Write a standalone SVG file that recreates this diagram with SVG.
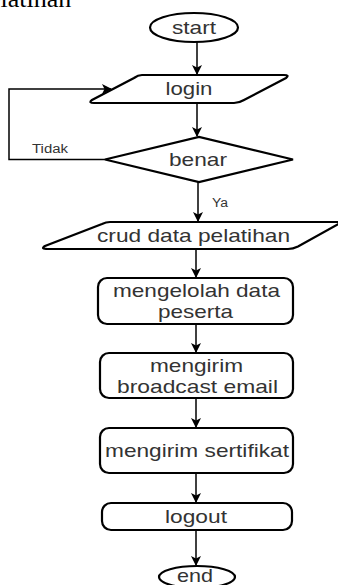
<svg xmlns="http://www.w3.org/2000/svg" width="338" height="585" viewBox="0 0 338 585">
<style>
.shape{fill:#fff;stroke:#000;stroke-width:2.2}
.t{font-family:"Liberation Sans",Arial,sans-serif;font-size:19px;fill:#333;text-anchor:middle}
.lbl{font-family:"Liberation Sans",Arial,sans-serif;font-size:12px;fill:#333}
.conn{fill:none;stroke:#000;stroke-width:1.5}
</style>
<defs>
<marker id="arr" markerWidth="10" markerHeight="10" refX="9" refY="5" orient="auto" markerUnits="userSpaceOnUse">
<path d="M0,0 L10,5 L0,10 L2.5,5 Z" fill="#000"/>
</marker>
</defs>
<rect width="338" height="585" fill="#fff"/>
<text x="-24" y="7" font-family="'Liberation Serif',serif" font-size="26" fill="#000">pelatihan</text>
<g id="connectors">
<path class="conn" d="M197,42 L197,74" marker-end="url(#arr)"/>
<path class="conn" d="M197,103 L197,136" marker-end="url(#arr)"/>
<path class="conn" d="M198,182 L198,221" marker-end="url(#arr)"/>
<path class="conn" d="M105,159.5 L9,159.5 L9,89 L111,89" marker-end="url(#arr)"/>
<path class="conn" d="M196,249 L196,277" marker-end="url(#arr)"/>
<path class="conn" d="M196,324 L196,352" marker-end="url(#arr)"/>
<path class="conn" d="M196,398 L196,427" marker-end="url(#arr)"/>
<path class="conn" d="M196,473 L196,502" marker-end="url(#arr)"/>
<path class="conn" d="M196,530 L196,565" marker-end="url(#arr)"/>
<text class="lbl" x="32" y="153" textLength="36" lengthAdjust="spacingAndGlyphs">Tidak</text>
<text class="lbl" x="212" y="207" textLength="16" lengthAdjust="spacingAndGlyphs">Ya</text>
</g>
<g id="start">
<ellipse class="shape" cx="194" cy="27.5" rx="44" ry="14.5"/>
<text class="t" x="194" y="34" textLength="44" lengthAdjust="spacingAndGlyphs">start</text>
</g>
<g id="login">
<path class="shape" d="M142,75 L284,75 Q290,75 286,78 L244,100 Q239,103 234,103 L94,103 Q88,103 92,100 L134,78 Q138,75 142,75 Z"/>
<text class="t" x="189" y="95" textLength="47" lengthAdjust="spacingAndGlyphs">login</text>
</g>
<g id="benar">
<polygon class="shape" points="105,159.5 199,137 293,159.5 199,182"/>
<text class="t" x="198" y="166" textLength="58" lengthAdjust="spacingAndGlyphs">benar</text>
</g>
<g id="crud">
<path class="shape" d="M110,222 L342,222 L298,246.5 Q293,249 288,249 L48,249 Q40,249 45,246 L102,224 Q106,222 110,222 Z"/>
<text class="t" x="193.5" y="242" textLength="193" lengthAdjust="spacingAndGlyphs">crud data pelatihan</text>
</g>
<g id="mengelolah">
<rect class="shape" x="98" y="278" width="195" height="46" rx="9"/>
<text class="t" x="196.5" y="297" textLength="167" lengthAdjust="spacingAndGlyphs">mengelolah data</text>
<text class="t" x="195.5" y="318" textLength="75" lengthAdjust="spacingAndGlyphs">peserta</text>
</g>
<g id="broadcast">
<rect class="shape" x="100" y="353" width="193" height="45" rx="9"/>
<text class="t" x="196.5" y="372" textLength="93" lengthAdjust="spacingAndGlyphs">mengirim</text>
<text class="t" x="197.5" y="393" textLength="161" lengthAdjust="spacingAndGlyphs">broadcast email</text>
</g>
<g id="sertifikat">
<rect class="shape" x="100" y="428" width="193" height="45" rx="9"/>
<text class="t" x="197" y="457" textLength="184" lengthAdjust="spacingAndGlyphs">mengirim sertifikat</text>
</g>
<g id="logout">
<rect class="shape" x="102" y="503" width="190" height="27" rx="9"/>
<text class="t" x="196" y="523" textLength="62" lengthAdjust="spacingAndGlyphs">logout</text>
</g>
<g id="end">
<ellipse class="shape" cx="197" cy="577" rx="38" ry="11"/>
<text class="t" x="195" y="582" textLength="36" lengthAdjust="spacingAndGlyphs">end</text>
</g>
</svg>
